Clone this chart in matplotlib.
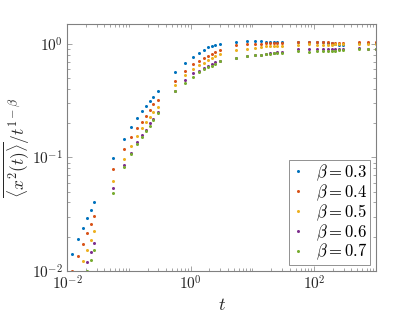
import numpy as np
import matplotlib
matplotlib.use('Agg')
import matplotlib.pyplot as plt
from matplotlib.ticker import LogLocator, FuncFormatter, NullFormatter

plt.rcParams['mathtext.fontset'] = 'cm'
plt.rcParams['font.family'] = 'serif'

# ------------------------- data -------------------------
t = [0.012, 0.015, 0.018, 0.021, 0.024, 0.027,
     0.055, 0.082, 0.11, 0.137, 0.164, 0.192, 0.22, 0.25, 0.297,
     0.55, 0.82, 1.1, 1.37, 1.64, 1.92, 2.2, 2.5, 2.97,
     5.5, 8.2, 11, 13.7, 16.4, 19.2, 22, 25, 29.7,
     55, 82, 110, 137, 164, 192, 220, 250, 297,
     520, 730, 1000]
nan = np.nan
y_b03 = [0.0140, 0.0189, 0.0237, 0.0290, 0.0343, 0.0404,
         0.0988, 0.145, 0.184, 0.221, 0.257, 0.286, 0.317, 0.343, 0.386,
         0.567, 0.685, 0.765, 0.829, 0.887, 0.937, 0.968, 0.988, 1.008,
         1.05, 1.07, 1.07, 1.06, 1.055, 1.05, 1.05, 1.05, 1.05,
         1.05, 1.05, 1.04, 1.035, 1.03, 1.02, 1.0, 0.99, 0.99,
         1.03, 1.03, 1.03]
y_b04 = [0.0099, 0.0134, 0.0173, 0.0214, 0.0258, 0.0304,
         0.0795, 0.119, 0.151, 0.181, 0.207, 0.233, 0.260, 0.298, 0.319,
         0.475, 0.582, 0.663, 0.714, 0.754, 0.790, 0.823, 0.846, 0.882,
         0.976, 0.995, 1.005, 1.01, 1.015, 1.02, 1.02, 1.02, 1.02,
         1.05, 1.055, 1.04, 1.04, 1.035, 1.03, 1.025, 1.02, 1.02,
         1.04, 1.035, 1.035]
y_b05 = [nan, nan, 0.0121, 0.0152, 0.0187, 0.0224,
         0.0623, 0.0974, 0.127, 0.155, 0.183, 0.207, 0.229, 0.252, 0.277,
         0.438, 0.537, 0.599, 0.650, 0.685, 0.724, 0.754, 0.785, 0.818,
         0.887, 0.911, 0.929, 0.948, 0.956, 0.96, 0.963, 0.966, 0.968,
         0.99, 0.995, 0.985, 0.985, 0.985, 0.99, 0.995, 1.0, 1.0,
         1.0, 1.0, 1.005]
y_b06 = [nan, nan, nan, 0.0119, 0.0147, 0.0177,
         0.0534, 0.0852, 0.110, 0.136, 0.158, 0.176, 0.201, 0.220, 0.253,
         0.383, 0.482, 0.553, 0.575, 0.615, 0.641, 0.667, 0.691, 0.709,
         0.76, 0.79, 0.80, 0.81, 0.825, 0.83, 0.84, 0.848, 0.852,
         0.90, 0.90, 0.91, 0.90, 0.91, 0.91, 0.915, 0.915, 0.915,
         0.92, 0.915, 0.915]
y_b07 = [nan, nan, nan, 0.0099, 0.0124, 0.0152,
         0.0488, 0.0823, 0.108, 0.132, 0.150, 0.170, 0.190, 0.212, 0.248,
         0.383, 0.456, 0.516, 0.564, 0.599, 0.624, 0.645, 0.671, 0.705,
         0.759, 0.790, 0.797, 0.806, 0.815, 0.82, 0.828, 0.835, 0.84,
         0.862, 0.857, 0.862, 0.862, 0.865, 0.87, 0.875, 0.88, 0.88,
         0.915, 0.91, 0.91]
betas = ['0.3', '0.4', '0.5', '0.6', '0.7']
series = [y_b03, y_b04, y_b05, y_b06, y_b07]
colors = ['#0072BD', '#D95319', '#EDB120', '#7E2F8E', '#77AC30']

# ------------------------------- plotting -----------------------------------
fig = plt.figure(figsize=(4.15, 3.23), dpi=100)
ax = fig.add_axes([0.1617, 0.162, 0.7445, 0.763])
for b, y, c in zip(betas, series, colors):
    ax.plot(t, y, 'o', ms=2.2, mec='none', mfc=c, label=r'$\beta=%s$' % b)

ax.set_xscale('log')
ax.set_yscale('log')
ax.set_xlim(1e-2, 1e3)
ax.set_ylim(1e-2, 1.5)

ax.xaxis.set_major_locator(LogLocator(base=100, numticks=10))
ax.xaxis.set_minor_locator(LogLocator(base=10, subs=np.arange(1, 10), numticks=20))
ax.yaxis.set_major_locator(LogLocator(base=10, numticks=10))
ax.yaxis.set_minor_locator(LogLocator(base=10, subs=np.arange(2, 10), numticks=20))
fmt = FuncFormatter(lambda v, p: r'$10^{%d}$' % int(round(np.log10(v))))
ax.xaxis.set_major_formatter(fmt)
ax.yaxis.set_major_formatter(fmt)
ax.xaxis.set_minor_formatter(NullFormatter())
ax.yaxis.set_minor_formatter(NullFormatter())

ax.tick_params(which='both', direction='in', top=True, right=True,
               color='#808080', labelcolor='#262626', labelsize=11, width=0.5)
ax.tick_params(which='major', length=3.5, pad=3)
ax.tick_params(which='minor', length=2)
for s in ax.spines.values():
    s.set_color('#808080')
    s.set_linewidth(0.8)

ax.set_xlabel(r'$t$', fontsize=13, color='#262626', labelpad=2)
ax.set_ylabel(r'$\overline{\langle x^2(t)\rangle}/t^{1-\beta}$', fontsize=12.5,
              color='#262626', labelpad=0)

leg = ax.legend(loc='lower right', fontsize=12, frameon=True, fancybox=False,
                framealpha=1, edgecolor='#808080', handlelength=0.8,
                handletextpad=0.7, borderpad=0.15, labelspacing=-0.04,
                borderaxespad=0.35, markerscale=1.0)
leg.get_frame().set_linewidth(0.6)

fig.savefig('out.png', dpi=100)
